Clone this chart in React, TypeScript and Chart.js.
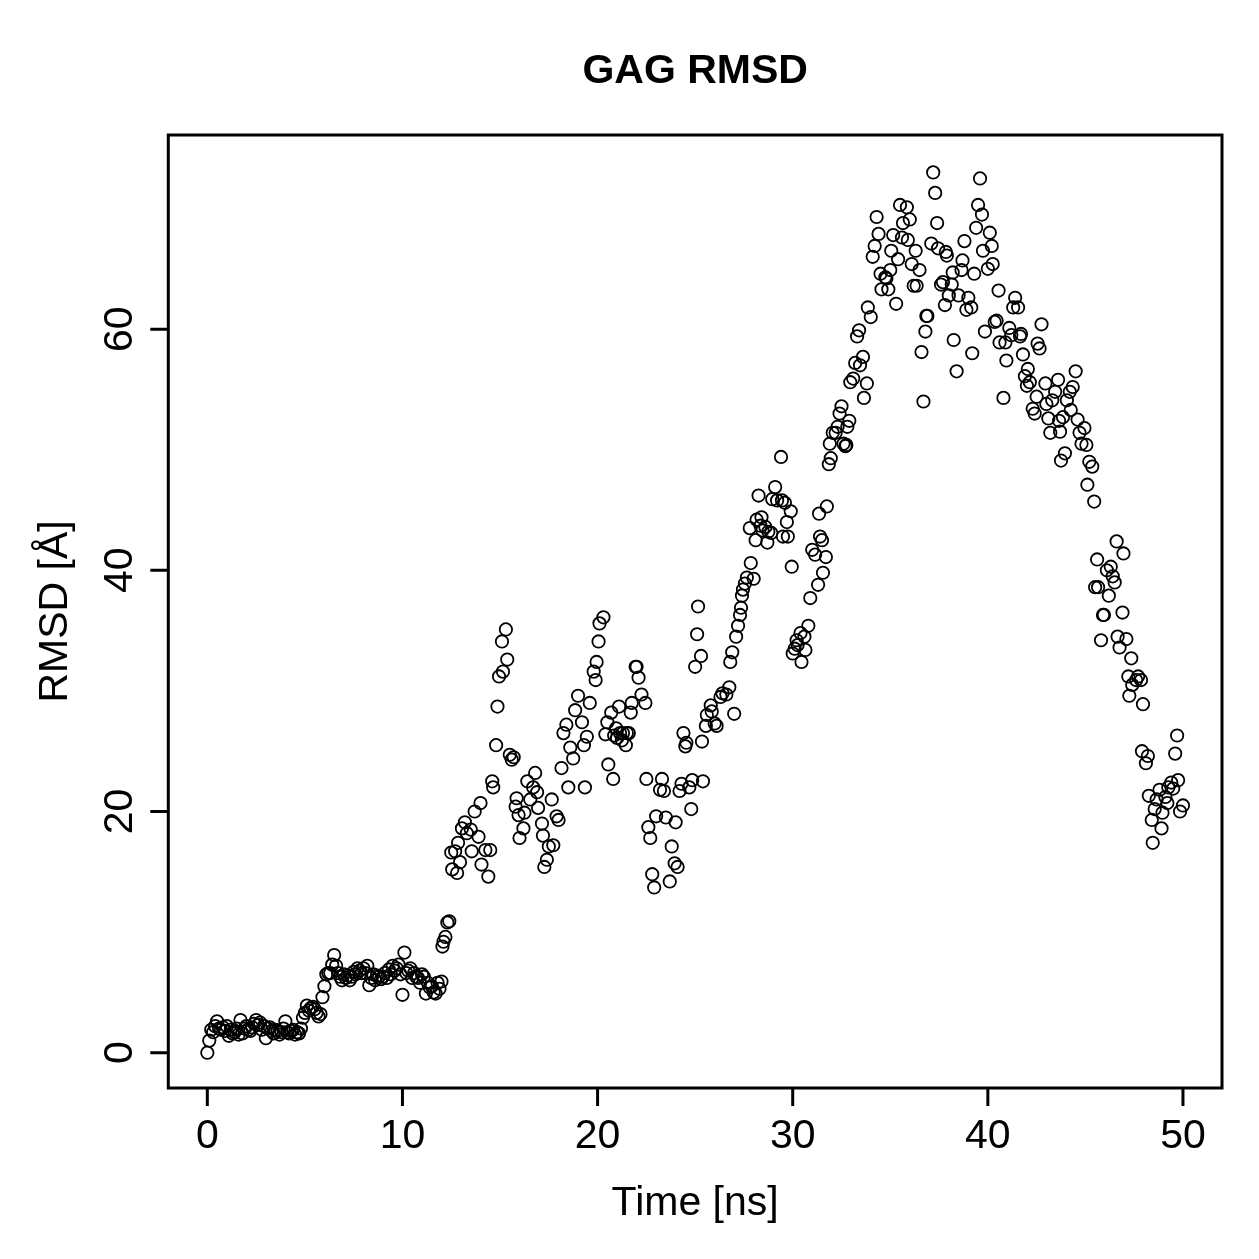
import React, { useEffect, useRef } from "react";
import { Chart, registerables } from "chart.js";

Chart.register(...registerables);

const titleText = "GAG RMSD";
const xAxisTitle = "Time [ns]";
const yAxisTitle = "RMSD [Å]";
const xTicks = [0, 10, 20, 30, 40, 50];
const yTicks = [0, 20, 40, 60];

// 0–12 ns, dense low plateau
const timeEarly = [
  0, 0.1, 0.2, 0.3, 0.4, 0.5, 0.6, 0.7, 0.8, 0.9,
  1.0, 1.1, 1.2, 1.3, 1.4, 1.5, 1.6, 1.7, 1.8, 1.9,
  2.0, 2.1, 2.2, 2.3, 2.4, 2.5, 2.6, 2.7, 2.8, 2.9,
  3.0, 3.1, 3.2, 3.3, 3.4, 3.5, 3.6, 3.7, 3.8, 3.9,
  4.0, 4.1, 4.2, 4.3, 4.4, 4.5, 4.6, 4.7, 4.8, 4.9,
  5.0, 5.1, 5.2, 5.3, 5.4, 5.5, 5.6, 5.7, 5.8, 5.9,
  6.0, 6.1, 6.2, 6.3, 6.4, 6.5, 6.6, 6.7, 6.8, 6.9,
  7.0, 7.1, 7.2, 7.3, 7.4, 7.5, 7.6, 7.7, 7.8, 7.9,
  8.0, 8.1, 8.2, 8.3, 8.4, 8.5, 8.6, 8.7, 8.8, 8.9,
  9.0, 9.1, 9.2, 9.3, 9.4, 9.5, 9.6, 9.7, 9.8, 9.9,
  10.0, 10.1, 10.2, 10.3, 10.4, 10.5, 10.6, 10.7, 10.8, 10.9,
  11.0, 11.1, 11.2, 11.3, 11.4, 11.5, 11.6, 11.7, 11.8, 11.9,
  12.0,
];
const rmsdEarly = [
  0.0, 1.0, 1.9, 1.7, 2.2, 2.6, 2.0, 1.9, 2.1, 1.8,
  2.2, 1.4, 1.9, 1.6, 1.7, 2.0, 1.5, 2.7, 1.6, 2.0,
  2.2, 1.9, 1.8, 2.1, 2.4, 2.7, 2.3, 2.5, 1.9, 2.2,
  1.2, 2.0, 2.1, 1.8, 1.6, 1.9, 1.8, 1.5, 1.7, 2.0,
  2.6, 1.7, 1.6, 1.8, 1.9, 1.5, 1.7, 1.6, 2.0, 2.9,
  3.3, 3.9, 3.5, 3.7, 3.8, 3.6, 3.3, 3.0, 3.2, 4.6,
  5.5, 6.5, 6.6, 6.6, 7.3, 8.1, 7.2, 6.6, 6.3, 6.0,
  6.5, 6.2, 6.4, 6.0, 6.3, 6.7, 6.5, 7.0, 6.8, 6.6,
  7.0, 6.6, 7.2, 5.6, 6.2, 6.5, 6.0, 6.4, 6.3, 6.1,
  6.3, 6.6, 6.2, 6.9, 6.5, 7.2, 6.8, 7.0, 7.3, 6.5,
  4.8, 8.3, 6.6, 6.8, 7.0, 6.2, 6.6, 6.3, 6.2, 5.8,
  6.5, 6.3, 4.9, 5.8, 5.4, 5.5, 5.0, 4.9, 5.8, 5.3,
  5.9,
];

// [time, rmsd] samples
const riseSamples = [
  [12.05, 8.8], [12.1, 9.2], [12.2, 9.6], [12.3, 10.8], [12.4, 10.9],
  [12.5, 16.6], [12.55, 15.2], [12.7, 16.7], [12.8, 14.9], [12.85, 17.4], [12.95, 15.8],
  [13.05, 18.6], [13.2, 19.1], [13.3, 18.2], [13.5, 18.5], [13.55, 16.7], [13.7, 20.0],
  [13.9, 17.9], [14.0, 20.7], [14.05, 15.6], [14.25, 16.8], [14.4, 14.6], [14.5, 16.8],
  [14.6, 22.5], [14.65, 22.0], [14.8, 25.5], [14.87, 28.7], [14.95, 31.2], [15.1, 34.1],
  [15.15, 31.6], [15.3, 35.1], [15.37, 32.6], [15.5, 24.7], [15.6, 24.3], [15.7, 24.5],
  [15.8, 20.4], [15.85, 21.1], [15.95, 19.7], [16.0, 17.8], [16.2, 18.6], [16.25, 19.9],
  [16.4, 22.5], [16.55, 21.0], [16.7, 22.0], [16.8, 23.2], [16.9, 21.6], [16.95, 20.3],
  [17.15, 19.0], [17.2, 18.0], [17.27, 15.4], [17.4, 16.0], [17.5, 17.1], [17.65, 21.0],
  [17.73, 17.2], [17.9, 19.6], [18.0, 19.3], [18.15, 23.6], [18.25, 26.5], [18.4, 27.2],
  [18.5, 22.0], [18.6, 25.3], [18.75, 24.4], [18.85, 28.4], [19.0, 29.6], [19.2, 27.4],
  [19.3, 25.5], [19.35, 22.0], [19.45, 26.2], [19.6, 29.0], [19.8, 31.6], [19.9, 30.9],
  [19.95, 32.4], [20.05, 34.1], [20.1, 35.6], [20.3, 36.1],
];

const midSamples = [
  [20.4, 26.4], [20.5, 27.4], [20.55, 23.9], [20.7, 28.2], [20.8, 22.7], [20.85, 26.3],
  [20.95, 26.9], [21.0, 26.1], [21.1, 28.7], [21.15, 26.5], [21.25, 25.9], [21.3, 26.5],
  [21.45, 25.5], [21.5, 26.5], [21.6, 26.5], [21.7, 28.2], [21.75, 29.0], [21.95, 32.0],
  [22.0, 32.0], [22.1, 31.1], [22.25, 29.7], [22.45, 29.0], [22.5, 22.7], [22.6, 18.7],
  [22.7, 17.8], [22.8, 14.8], [22.9, 13.7], [23.0, 19.6], [23.2, 21.8], [23.3, 22.7],
  [23.4, 21.7], [23.5, 19.5], [23.7, 14.2], [23.8, 17.1], [23.95, 15.7], [24.0, 19.1],
  [24.1, 15.4], [24.2, 21.7], [24.3, 22.3], [24.4, 26.5], [24.5, 25.4], [24.55, 25.7],
  [24.7, 22.0], [24.8, 20.2], [24.85, 22.6], [25.0, 32.0], [25.1, 34.7], [25.15, 37.0],
  [25.3, 32.9], [25.35, 25.8], [25.4, 22.5], [25.55, 27.1], [25.6, 28.0], [25.8, 28.8],
  [25.85, 28.3], [26.0, 27.3], [26.1, 27.1], [26.3, 29.5], [26.4, 29.8], [26.6, 29.7],
  [26.75, 30.3], [26.8, 32.4], [26.9, 33.2], [27.0, 28.1], [27.1, 34.5], [27.2, 35.4],
  [27.3, 36.3], [27.35, 36.9], [27.4, 37.9], [27.45, 38.4], [27.55, 38.9], [27.65, 39.4],
  [27.8, 43.5], [27.85, 40.6], [28.0, 39.3], [28.1, 42.5], [28.15, 44.2], [28.25, 46.2],
  [28.35, 43.7], [28.4, 44.4], [28.45, 43.3], [28.6, 43.6], [28.7, 42.3], [28.75, 43.2],
  [28.9, 43.1], [28.95, 45.9], [29.1, 46.9], [29.2, 45.8], [29.4, 49.4], [29.45, 45.8],
  [29.5, 42.8], [29.6, 45.6], [29.7, 44.0], [29.75, 42.8], [29.9, 44.9], [29.95, 40.3],
];

const peakSamples = [
  [30.0, 33.1], [30.1, 33.5], [30.2, 34.2], [30.25, 33.8], [30.4, 34.8], [30.45, 32.4],
  [30.6, 34.5], [30.65, 33.4], [30.8, 35.4], [30.9, 37.7], [31.0, 41.7], [31.15, 41.3],
  [31.3, 38.8], [31.35, 44.7], [31.4, 42.8], [31.5, 42.5], [31.55, 39.8], [31.7, 41.1],
  [31.75, 45.3], [31.85, 48.8], [31.9, 50.5], [31.95, 49.3], [32.05, 51.4], [32.2, 51.4],
  [32.3, 51.9], [32.4, 53.0], [32.5, 53.6], [32.6, 50.5], [32.7, 50.3], [32.75, 50.4],
  [32.8, 51.9], [32.9, 52.4], [32.95, 55.6], [33.1, 55.9], [33.2, 57.2], [33.3, 59.4],
  [33.4, 59.9], [33.45, 57.0], [33.6, 57.7], [33.65, 54.3], [33.8, 55.5], [33.85, 61.8],
  [34.0, 61.0], [34.1, 66.0], [34.2, 66.9], [34.3, 69.3], [34.4, 67.9], [34.5, 64.6],
  [34.55, 63.3], [34.75, 64.3], [34.8, 64.2], [34.9, 63.3], [35.0, 64.9], [35.05, 66.5],
  [35.15, 67.8], [35.3, 62.1], [35.4, 65.8], [35.5, 70.3], [35.6, 67.6], [35.65, 68.8],
  [35.85, 70.1], [35.9, 67.4], [36.0, 69.1], [36.1, 65.4], [36.2, 63.6], [36.3, 66.5],
  [36.35, 63.6], [36.5, 64.9], [36.6, 58.1], [36.7, 54.0], [36.8, 59.8], [36.85, 61.1],
  [36.9, 61.1], [37.1, 67.1], [37.2, 73.0], [37.3, 71.3], [37.4, 68.8], [37.45, 66.7],
  [37.6, 63.7], [37.7, 63.9], [37.8, 62.0], [37.85, 66.4], [37.9, 66.1], [38.0, 62.8],
  [38.15, 63.7], [38.2, 64.7], [38.25, 59.1], [38.4, 56.5], [38.5, 62.8], [38.65, 64.9],
  [38.7, 65.7], [38.8, 67.3], [38.9, 61.6], [39.0, 62.6], [39.15, 61.8], [39.2, 58.0],
  [39.3, 64.6], [39.4, 68.4], [39.5, 70.3], [39.6, 72.5], [39.7, 69.5], [39.75, 66.5],
  [39.85, 59.8], [40.0, 65.0],
];

const fallSamples = [
  [40.1, 68.0], [40.2, 66.9], [40.25, 65.4], [40.35, 60.6], [40.45, 60.7], [40.55, 63.2],
  [40.6, 58.9], [40.8, 54.3], [40.9, 58.9], [40.95, 57.4], [41.1, 60.1], [41.2, 59.5],
  [41.3, 61.8], [41.4, 62.6], [41.55, 61.8], [41.65, 59.4], [41.7, 59.6], [41.8, 57.9],
  [41.9, 56.1], [42.0, 55.3], [42.05, 56.7], [42.15, 55.6], [42.3, 53.4], [42.4, 53.0],
  [42.5, 54.4], [42.55, 58.8], [42.65, 58.4], [42.75, 60.4], [42.95, 55.5], [43.0, 53.8],
  [43.1, 52.6], [43.2, 51.4], [43.3, 54.1], [43.45, 54.8], [43.6, 55.8], [43.65, 52.4],
  [43.7, 51.5], [43.75, 49.1], [43.85, 52.7], [43.95, 49.7], [44.05, 54.1], [44.2, 54.8],
  [44.25, 53.3], [44.35, 55.2], [44.5, 56.5], [44.6, 52.5], [44.7, 51.4], [44.8, 50.5],
  [44.95, 51.8], [45.05, 50.4], [45.1, 47.1], [45.2, 49.0], [45.35, 48.6], [45.45, 45.7],
  [45.5, 38.6], [45.6, 40.9], [45.65, 38.6], [45.8, 34.2], [45.9, 36.3], [45.95, 36.3],
  [46.1, 40.0], [46.2, 37.9], [46.3, 40.3], [46.4, 39.5], [46.5, 39.0], [46.6, 42.4],
  [46.65, 34.5], [46.75, 33.6], [46.9, 36.5], [46.95, 41.4], [47.1, 34.3], [47.2, 31.2],
  [47.25, 29.6], [47.35, 32.7], [47.4, 30.5], [47.6, 30.9], [47.7, 31.2], [47.85, 30.9],
  [47.9, 25.0], [47.95, 28.9], [48.1, 24.0], [48.2, 24.6], [48.25, 21.3], [48.4, 19.3],
  [48.45, 17.4], [48.55, 20.2], [48.65, 21.0], [48.8, 21.8], [48.9, 18.6], [48.95, 19.9],
  [49.1, 21.2], [49.2, 20.7], [49.25, 22.0], [49.4, 22.4], [49.5, 21.9], [49.6, 24.8],
  [49.7, 26.3], [49.75, 22.6], [49.85, 20.0], [50.0, 20.5],
];

const FONT = '"Liberation Sans", Arial, Helvetica, sans-serif';

export default function App() {
  const ref = useRef<HTMLCanvasElement>(null);

  useEffect(() => {
    if (!ref.current) return;
    const points = [
      ...timeEarly.map((t, i) => ({ x: t, y: rmsdEarly[i] })),
      ...[...riseSamples, ...midSamples, ...peakSamples, ...fallSamples].map(([x, y]) => ({ x, y })),
    ];

    const rAxes = {
      id: "rAxes",
      afterDraw(chart: any) {
        const { ctx, chartArea: a, scales } = chart;
        const xs = scales.x;
        const ys = scales.y;
        ctx.save();
        ctx.strokeStyle = "#000";
        ctx.lineWidth = 3;
        ctx.lineCap = "butt";
        ctx.strokeRect(a.left, a.top, a.right - a.left, a.bottom - a.top);
        ctx.beginPath();
        for (const t of xTicks) {
          const px = xs.getPixelForValue(t);
          ctx.moveTo(px, a.bottom);
          ctx.lineTo(px, a.bottom + 18);
        }
        for (const t of yTicks) {
          const py = ys.getPixelForValue(t);
          ctx.moveTo(a.left, py);
          ctx.lineTo(a.left - 18, py);
        }
        ctx.stroke();

        ctx.fillStyle = "#000";
        ctx.font = `41px ${FONT}`;
        ctx.textAlign = "center";
        ctx.textBaseline = "alphabetic";
        for (const t of xTicks) {
          ctx.fillText(String(t), xs.getPixelForValue(t), 1148);
        }
        for (const t of yTicks) {
          ctx.save();
          ctx.translate(132, ys.getPixelForValue(t));
          ctx.rotate(-Math.PI / 2);
          ctx.fillText(String(t), 0, 0);
          ctx.restore();
        }
        ctx.fillText(xAxisTitle, (a.left + a.right) / 2, 1215);
        ctx.save();
        ctx.translate(67, (a.top + a.bottom) / 2);
        ctx.rotate(-Math.PI / 2);
        ctx.fillText(yAxisTitle, 0, 0);
        ctx.restore();

        ctx.font = `bold 41px ${FONT}`;
        ctx.fillText(titleText, (a.left + a.right) / 2, 83);
        ctx.restore();
      },
    };

    const chart = new Chart(ref.current, {
      type: "scatter",
      data: {
        datasets: [
          {
            data: points,
            pointStyle: "circle",
            pointRadius: 6.2,
            pointHoverRadius: 6.2,
            borderColor: "#000",
            backgroundColor: "rgba(0,0,0,0)",
            borderWidth: 1.8,
          },
        ],
      },
      options: {
        responsive: false,
        animation: false,
        devicePixelRatio: 1,
        layout: { padding: { left: 168.3, top: 135, right: 37, bottom: 171 } },
        scales: {
          x: { type: "linear", min: -2, max: 52, display: false },
          y: { type: "linear", min: -2.93, max: 76.1, display: false },
        },
        plugins: {
          legend: { display: false },
          tooltip: { enabled: false },
          title: { display: false },
        },
      },
      plugins: [rAxes],
    });
    return () => chart.destroy();
  }, []);

  return (
    <div style={{ position: "fixed", left: 0, top: 0, width: 1259, height: 1259, background: "#fff" }}>
      <canvas ref={ref} width={1259} height={1259} style={{ display: "block" }} />
    </div>
  );
}
